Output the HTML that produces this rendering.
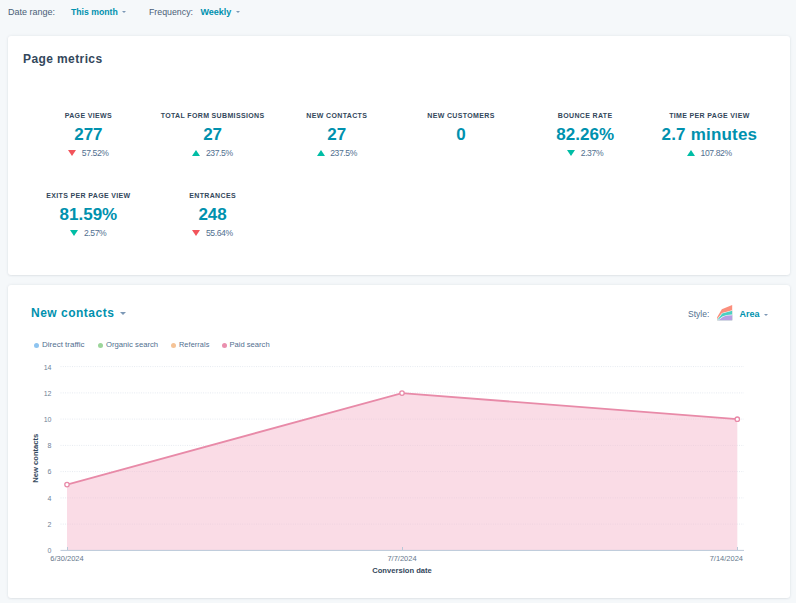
<!DOCTYPE html>
<html><head><meta charset="utf-8">
<style>
*{box-sizing:border-box;margin:0;padding:0}
html,body{width:796px;height:603px;overflow:hidden;background:#f5f8fa;font-family:"Liberation Sans",sans-serif;color:#33475b}
.a{position:absolute;white-space:nowrap}
.card{position:absolute;left:8px;width:782px;background:#fff;border-radius:3px;box-shadow:0 0 3px rgba(45,62,80,.10),0 1px 2px rgba(45,62,80,.06)}
.lbl{font-size:9px;color:#4a5f78;line-height:12px}
.sel{font-size:9px;font-weight:bold;color:#0091ae;line-height:12px}
.caret{position:absolute;width:0;height:0;border-left:2px solid transparent;border-right:2px solid transparent;border-top:2px solid #7c98b6}
.m{position:absolute;width:124.2px;text-align:center}
.m .t{font-size:7px;font-weight:bold;letter-spacing:.35px;color:#33475b;line-height:9px;height:9px}
.m .v{font-size:17px;font-weight:bold;color:#0091ae;line-height:20px;margin-top:5.4px}
.m .d{font-size:8.6px;letter-spacing:-.4px;color:#516f90;line-height:10px;margin-top:2.8px}
.tri{display:inline-block;width:0;height:0;border-left:4.2px solid transparent;border-right:4.2px solid transparent;margin-right:5.5px;vertical-align:0}
.dn{border-top:6px solid #f2545b}
.up{border-bottom:6px solid #00bda5}
.dnt{border-top:6px solid #00bda5}
.lg{font-size:8px;color:#516f90;line-height:10px}
.dot{position:absolute;width:5px;height:5px;border-radius:50%}
</style></head><body>
<!-- top filter bar -->
<div class="a lbl" style="left:8px;top:6px">Date range:</div>
<div class="a sel" style="left:71px;top:6px;font-size:8.7px">This month</div>
<div class="caret" style="left:122px;top:10.5px"></div>
<div class="a lbl" style="left:149px;top:6px;font-size:8.8px">Frequency:</div>
<div class="a sel" style="left:200.5px;top:6px">Weekly</div>
<div class="caret" style="left:236px;top:10.5px"></div>

<!-- card 1 -->
<div class="card" style="top:36px;height:239.2px"></div>
<div class="a" style="left:23px;top:52px;font-size:12px;font-weight:bold;letter-spacing:.4px;line-height:14px;color:#33475b">Page metrics</div>

<div class="m" style="left:26.3px;top:111px"><div class="t">PAGE VIEWS</div><div class="v">277</div><div class="d"><span class="tri dn"></span>57.52%</div></div>
<div class="m" style="left:150.5px;top:111px"><div class="t">TOTAL FORM SUBMISSIONS</div><div class="v">27</div><div class="d"><span class="tri up"></span>237.5%</div></div>
<div class="m" style="left:274.7px;top:111px"><div class="t">NEW CONTACTS</div><div class="v">27</div><div class="d"><span class="tri up"></span>237.5%</div></div>
<div class="m" style="left:398.9px;top:111px"><div class="t">NEW CUSTOMERS</div><div class="v">0</div></div>
<div class="m" style="left:523.1px;top:111px"><div class="t">BOUNCE RATE</div><div class="v">82.26%</div><div class="d"><span class="tri dnt"></span>2.37%</div></div>
<div class="m" style="left:647.3px;top:111px"><div class="t">TIME PER PAGE VIEW</div><div class="v" style="letter-spacing:.2px">2.7 minutes</div><div class="d"><span class="tri up"></span>107.82%</div></div>
<div class="m" style="left:26.3px;top:191px"><div class="t">EXITS PER PAGE VIEW</div><div class="v">81.59%</div><div class="d"><span class="tri dnt"></span>2.57%</div></div>
<div class="m" style="left:150.5px;top:191px"><div class="t">ENTRANCES</div><div class="v">248</div><div class="d"><span class="tri dn"></span>55.64%</div></div>

<!-- card 2 -->
<div class="card" style="top:285px;height:313.2px"></div>
<div class="a" style="left:31px;top:306px;font-size:12px;font-weight:bold;letter-spacing:.5px;line-height:14px;color:#0091ae">New contacts</div>
<div class="caret" style="left:119.5px;top:311.5px;border-left-width:3px;border-right-width:3px;border-top-width:3px"></div>

<div class="dot" style="left:33.7px;top:343px;background:#8ec4f0"></div>
<div class="a lg" style="left:42px;top:340px">Direct traffic</div>
<div class="dot" style="left:97.8px;top:343px;background:#9cd59a"></div>
<div class="a lg" style="left:106px;top:340px;font-size:7.7px">Organic search</div>
<div class="dot" style="left:170.8px;top:343px;background:#f5c396"></div>
<div class="a lg" style="left:179px;top:340px;font-size:7.3px;letter-spacing:.1px">Referrals</div>
<div class="dot" style="left:221.7px;top:343px;background:#ea8fae"></div>
<div class="a lg" style="left:229.5px;top:340px;font-size:7.6px">Paid search</div>

<div class="a" style="left:688px;top:309px;font-size:8.5px;color:#516f90;line-height:10px">Style:</div>
<svg class="a" style="left:716px;top:304px" width="17" height="17" viewBox="716 304 17 17">
  <path d="M717 320.2 L717 317.6 L721.8 309.2 L732.2 305 L732.2 320.2 Z" fill="#fb8f7d"/>
  <path d="M717 320.2 L717.4 318.8 L722 313 L732.2 310.2 L732.2 320.2 Z" fill="#fff"/>
  <path d="M717.2 320.2 L717.8 319.2 L722.2 313.6 L732.2 310.8 L732.2 320.2 Z" fill="#4ccfc2"/>
  <path d="M717.6 320.2 L718.4 319.6 L722.8 316.2 L727 315 L732.2 314.6 L732.2 320.2 Z" fill="#fff"/>
  <path d="M718 320.2 L719 319.8 L723.2 316.8 L727 315.6 L732.2 315.2 L732.2 320.2 Z" fill="#b7a0e3"/>
</svg>
<div class="a sel" style="left:739.5px;top:308px">Area</div>
<div class="caret" style="left:764px;top:314px"></div>

<!-- chart -->
<svg class="a" style="left:0;top:0" width="796" height="603" viewBox="0 0 796 603">
  <g stroke="#e6eaf0" stroke-width="1" stroke-dasharray="1,1.3" fill="none">
    <line x1="60.5" y1="366.6" x2="744" y2="366.6"/>
    <line x1="60.5" y1="392.9" x2="744" y2="392.9"/>
    <line x1="60.5" y1="419.1" x2="744" y2="419.1"/>
    <line x1="60.5" y1="445.4" x2="744" y2="445.4"/>
    <line x1="60.5" y1="471.6" x2="744" y2="471.6"/>
    <line x1="60.5" y1="497.9" x2="744" y2="497.9"/>
    <line x1="60.5" y1="524.1" x2="744" y2="524.1"/>
  </g>
  <path d="M67 484.6 L402 393.1 L737.3 419.2 L737.3 550 L67 550 Z" fill="#f5b9cd" fill-opacity=".5"/>
  <polyline points="67,484.6 402,393.1 737.3,419.2" fill="none" stroke="#e88aa8" stroke-width="1.8"/>
  <line x1="60.5" y1="550.4" x2="744" y2="550.4" stroke="#b9c8d8" stroke-width="1"/>
  <g stroke="#b9c8d8"><line x1="67.5" y1="547" x2="67.5" y2="550"/><line x1="402.5" y1="547" x2="402.5" y2="550"/><line x1="737.5" y1="547" x2="737.5" y2="550"/></g>
  <g fill="#fff" stroke="#e88aa8" stroke-width="1.3"><circle cx="67" cy="484.6" r="2.2"/><circle cx="402" cy="393.1" r="2.2"/><circle cx="737.3" cy="419.2" r="2.2"/></g>
  <g font-family="Liberation Sans" font-size="7" fill="#6f8196" text-anchor="end">
    <text x="51.5" y="370">14</text>
    <text x="51.5" y="396">12</text>
    <text x="51.5" y="422.4">10</text>
    <text x="51.5" y="448.2">8</text>
    <text x="51.5" y="474.3">6</text>
    <text x="51.5" y="500.7">4</text>
    <text x="51.5" y="527">2</text>
    <text x="51.5" y="552.6">0</text>
  </g>
  <g font-family="Liberation Sans" font-size="7.5" fill="#66788c">
    <text x="67" y="561.2" text-anchor="middle">6/30/2024</text>
    <text x="402" y="561.2" text-anchor="middle">7/7/2024</text>
    <text x="743" y="561.2" text-anchor="end">7/14/2024</text>
  </g>
  <text x="402" y="573" text-anchor="middle" font-family="Liberation Sans" font-size="7.6" font-weight="bold" fill="#33475b">Conversion date</text>
  <text transform="translate(38.1,458.2) rotate(-90)" text-anchor="middle" font-family="Liberation Sans" font-size="7.6" font-weight="bold" fill="#33475b">New contacts</text>
</svg>
</body></html>
